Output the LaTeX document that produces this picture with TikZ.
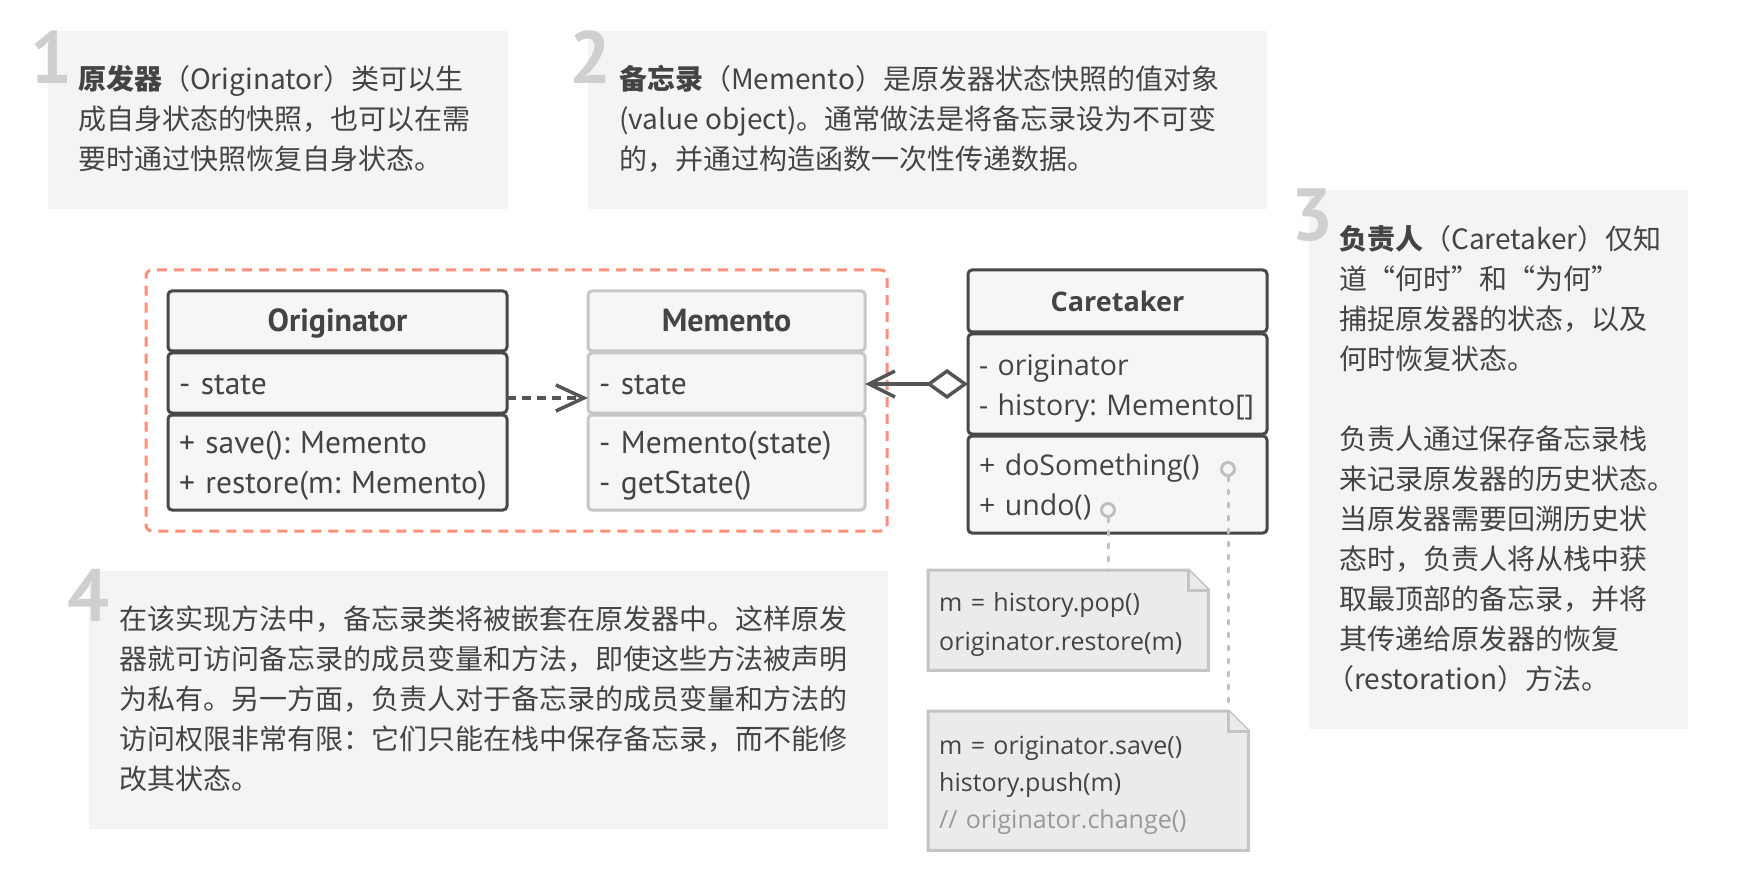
\documentclass[tikz,border=0pt]{standalone}
\usepackage{fontspec}
\newfontfamily\cjk{Noto Sans CJK SC}
\newfontfamily\ptsans{PT Sans}[WordSpace=0.8]
\newfontfamily\opensans{Open Sans}
\usetikzlibrary{positioning,fit,arrows.meta,backgrounds}

\definecolor{ink}{HTML}{444444}
\definecolor{panelgray}{HTML}{F4F4F4}
\definecolor{clsfill}{HTML}{F6F6F6}
\definecolor{darkline}{HTML}{484848}
\definecolor{lightline}{HTML}{C6C6C6}
\definecolor{notefill}{HTML}{EBEBEB}
\definecolor{noteline}{HTML}{C4C4C4}
\definecolor{framered}{HTML}{FF8E7A}
\definecolor{numgray}{HTML}{CFCFCF}
\definecolor{arrowgray}{HTML}{555555}
\definecolor{dotgray}{HTML}{C0C0C0}
\definecolor{commentgray}{HTML}{999999}

\newcommand\rowstrut{\rule[-8pt]{0pt}{38pt}}

\tikzset{
    panel/.style={fill=panelgray},
    num/.style={anchor=base west, inner sep=0pt, text=numgray, font=\ptsans\bfseries\fontsize{74}{74}\selectfont},
    txt/.style={anchor=north west, inner sep=0pt, align=left, text=ink, font=\cjk\fontsize{28}{40}\selectfont},
    part/.style={draw=#1, fill=clsfill, line width=3pt, rounded corners=4pt, outer sep=0pt, inner xsep=11pt, inner ysep=0pt, text=ink},
    head/.style={part=#1, align=center, font=\ptsans\bfseries\fontsize{32}{40}\selectfont},
    body/.style={part=#1, align=left, font=\ptsans\fontsize{31.5}{40}\selectfont},
    port/.style={circle, draw=dotgray, fill=clsfill, line width=3pt, minimum size=13pt, inner sep=0pt},
    note/.style={anchor=north west, inner xsep=11pt, inner ysep=0pt, align=left, text=ink, font=\opensans\fontsize{25}{37}\selectfont},
    notepath/.style={draw=noteline, fill=notefill, line width=3pt},
    frame/.style={draw=framered, line width=3pt, dash pattern=on 10pt off 7pt, rounded corners=6pt, inner xsep=22pt, inner ysep=21pt},
    dep/.style={draw=arrowgray, line width=3.5pt, dash pattern=on 9pt off 6pt, -{Straight Barb[length=28pt,width=26pt]}},
    assoc/.style={draw=arrowgray, line width=3.5pt, {Diamond[open,length=42pt,width=30pt]}-{Straight Barb[length=26pt,width=26pt]}},
    dots/.style={draw=dotgray, line width=3pt, line cap=round, dash pattern=on 4pt off 9pt}
}

\begin{document}
\frenchspacing
\begin{tikzpicture}[x=1pt,y=-1pt]
            \useasboundingbox (0,0) rectangle (1742,882);

            \fill[panel] (48,31) rectangle (508,209);
            \fill[panel] (588,31) rectangle (1267,209);
            \fill[panel] (1309,190) rectangle (1688,729);
            \fill[panel] (89,571) rectangle (888,829);

            \node[num] (num1) at (30,84) {1};
            \node[num] (num2) at (569,84) {2};
            \node[num] (num3) at (1291,241) {3};
            \node[num] (num4) at (67,621) {4};

            \node[txt] (origtext) at (78,61) {\strut\textbf{原发器}（Originator）类可以生\\
                成自身状态的快照，也可以在需\\
                要时通过快照恢复自身状态。};
            \node[txt] (memtext) at (619,61) {\strut\textbf{备忘录}（Memento）是原发器状态快照的值对象\\
                (value object)。通常做法是将备忘录设为不可变\\
                的，并通过构造函数一次性传递数据。};
            \node[txt] (caretext) at (1339,221) {\strut\textbf{负责人}（Caretaker）仅知\\
                道“何时”和“为何”\\
                捕捉原发器的状态，以及\\
                何时恢复状态。\\[40pt]
                负责人通过保存备忘录栈\\
                来记录原发器的历史状态。\\
                当原发器需要回溯历史状\\
                态时，负责人将从栈中获\\
                取最顶部的备忘录，并将\\
                其传递给原发器的恢复\\
                \kern-13pt（restoration）方法。};
            \node[txt] (nesttext) at (119,601) {\strut 在该实现方法中，备忘录类将被嵌套在原发器中。这样原发\\
                器就可访问备忘录的成员变量和方法，即使这些方法被声明\\
                为私有。另一方面，负责人对于备忘录的成员变量和方法的\\
                访问权限非常有限：它们只能在栈中保存备忘录，而不能修\\
                改其状态。};

            % classes
            \node[head=darkline, minimum width=339pt, minimum height=60pt, anchor=north west] (orig) at (168,291) {\rowstrut Originator};
            \node[body=darkline, text width=317pt, minimum height=60pt, below=2pt of orig] (origattr) {\rowstrut- state};
            \node[body=darkline, text width=317pt, minimum height=95pt, below=2pt of origattr] (origops) {\rowstrut+ save(): Memento\\+ restore(m: Memento)\rowstrut};

            \node[head=lightline, minimum width=277pt, minimum height=60pt, anchor=north west] (mem) at (588,291) {\rowstrut Memento};
            \node[body=lightline, text width=255pt, minimum height=60pt, below=2pt of mem] (memattr) {\rowstrut- state};
            \node[body=lightline, text width=255pt, minimum height=95pt, below=2pt of memattr] (memops) {\rowstrut- Memento(state)\\- getState()\rowstrut};

            \node[head=darkline, font=\opensans\bfseries\fontsize{27}{40}\selectfont, minimum width=299pt, minimum height=62pt, anchor=north west] (ct) at (968,270) {\rowstrut Caretaker};
            \node[body=darkline, font=\opensans\fontsize{28.5}{40}\selectfont, text width=277pt, minimum height=100pt, below=2pt of ct] (ctattr) {\rowstrut- originator\\- history: Memento[]\rowstrut};
            \node[body=darkline, font=\opensans\fontsize{28.5}{40}\selectfont, text width=277pt, minimum height=97pt, below=2pt of ctattr] (ctops) {\rowstrut+ doSomething()\\+ undo()\rowstrut};

            \node[frame, fit=(orig)(memops)] (pkg) {};

            \node[port] (dopt) at (1228,469) {};
            \node[port] (undopt) at (1108,510) {};

            \node[note, minimum width=280pt, minimum height=100pt, text width=258pt] (popnote) at (928,570) {\rowstrut m = history.pop()\\originator.restore(m)\rowstrut};
            \node[note, minimum width=320pt, minimum height=139pt, text width=298pt] (savenote) at (928,711) {\rowstrut m = originator.save()\\history.push(m)\\{\color{commentgray}// originator.change()}\rowstrut};

            \begin{scope}[on background layer]
                \fill[white] (0,0) rectangle (1742,882);
                \foreach \n in {popnote,savenote} {
                    \draw[notepath] (\n.north west) -- ([xshift=-20pt]\n.north east) -- ([yshift=-20pt]\n.north east) -- (\n.south east) -- (\n.south west) -- cycle;
                    \draw[notepath] ([xshift=-20pt]\n.north east) |- ([yshift=-20pt]\n.north east);
                }
            \end{scope}

            \draw[dep] ([yshift=-15pt]origattr.east) -- ([yshift=-15pt]origattr.east -| memattr.west);
            \draw[assoc] (ctattr.west) -- (ctattr.west -| memattr.east);
            \draw[dots] (undopt.south) -- (undopt |- popnote.north);
            \draw[dots] (dopt.south) -- (dopt |- savenote.north);
        \end{tikzpicture}
\end{document}
